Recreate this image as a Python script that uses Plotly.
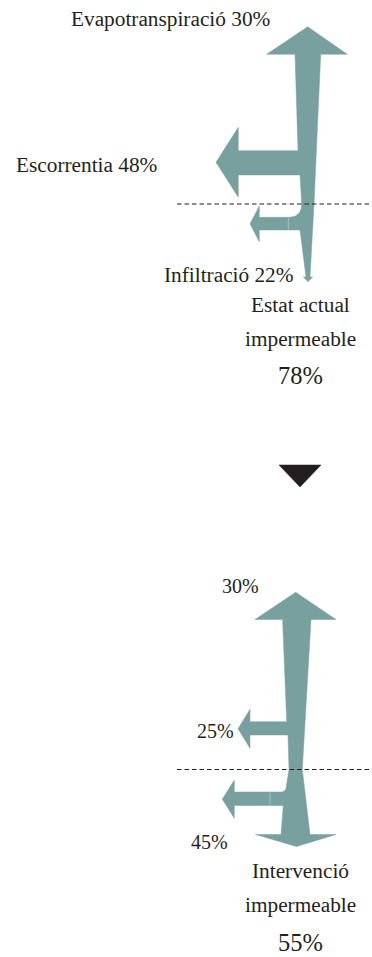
import numpy as np
import plotly.graph_objects as go

# ---------------- data ----------------
scenarios = ["Estat actual", "Intervenció"]
surface_type = ["impermeable", "impermeable"]
flow_names = ["Evapotranspiració", "Escorrentia", "Infiltració"]
evapotranspiracio = [30, 30]
escorrentia = [48, 25]
infiltracio = [22, 45]
impermeable_pct = [78, 55]

# ---------------- style / layout ----------------
W, H = 372, 957
TEAL = "#78a09e"
SEAM = "rgba(255,255,255,0.35)"
INK = "#231f20"
SERIF = "Liberation Serif, Times New Roman, serif"
NAME_SIZE = 21.3
PCT_SIZE = 20
BIG_SIZE = 24.5

# geometry of each panel, in canvas pixels (y grows downward)
GEOM = [
    dict(
        up_tip=(307.7, 26.7), up_base_y=54.3, up_l=266.7, up_r=347.3,
        shaft_r=[(320.7, 54.3), (315, 190), (314, 204), (310, 277)],
        shaft_l=[(306, 277), (300, 230), (301.7, 204), (300, 175)],
        shaft_l_top=[(298, 150.7), (295, 54.3)],
        down=dict(base_y=277, l=303.3, r=312.7, tip=(308, 281.7)),
        run=dict(top=150.7, bot=175, base_x=238.3, h_top=127.3, h_bot=197.3, tip_x=216),
        inf=dict(top=217.3, bot=230, seam_x=288.3, base_x=259.3, h_top=206, h_bot=241.7,
                 tip_x=250, join_x=304, arc_c=(290, 205), arc_r=(12, 12.3), join_top=204),
        dash_y=204,
    ),
    dict(
        up_tip=(295.7, 592.3), up_base_y=619.5, up_l=255, up_r=336,
        shaft_r=[(311, 619.5), (305, 720), (302.3, 769.5), (310, 834.5)],
        shaft_l=[(281, 834.5), (283.3, 805.5), (289, 769.5), (288, 735)],
        shaft_l_top=[(286.7, 721.7), (282.6, 619.5)],
        down=dict(base_y=834.5, l=255.5, r=336, tip=(296.5, 846.5)),
        run=dict(top=721.7, bot=735, base_x=250, h_top=709.3, h_bot=748.3, tip_x=238),
        inf=dict(top=792, bot=805.5, seam_x=270, base_x=234.3, h_top=780, h_bot=818.3,
                 tip_x=222.3, join_x=292, arc_c=(281, 785), arc_r=(6.5, 7), join_top=778),
        dash_y=769.5,
    ),
]

fig = go.Figure()


def poly(pts, color=TEAL):
    xs = [p[0] for p in pts] + [pts[0][0]]
    ys = [p[1] for p in pts] + [pts[0][1]]
    fig.add_trace(go.Scatter(x=xs, y=ys, mode="lines", fill="toself",
                             fillcolor=color, line=dict(color=color, width=0.5),
                             hoverinfo="skip", showlegend=False))


for g in GEOM:
    d = g["down"]
    r = g["run"]
    run_mid = (r["h_top"] + r["h_bot"]) / 2
    # main body: up arrow + tapering shaft + run-off branch + down tip
    body = [g["up_tip"], (g["up_r"], g["up_base_y"])]
    body += g["shaft_r"]
    body += [(d["r"], d["base_y"]), d["tip"], (d["l"], d["base_y"])]
    body += g["shaft_l"]
    body += [(r["base_x"], r["bot"]), (r["base_x"], r["h_bot"]), (r["tip_x"], run_mid),
             (r["base_x"], r["h_top"]), (r["base_x"], r["top"])]
    body += g["shaft_l_top"]
    body += [(g["up_l"], g["up_base_y"])]
    poly(body)

    # infiltration branch with rounded elbow
    f = g["inf"]
    cx, cy = f["arc_c"]
    rx, ry = f["arc_r"]
    t = np.linspace(np.pi / 2, 0, 12)
    arc = [(cx + rx * np.sin(a), cy + ry * np.cos(a)) for a in t]
    inf_mid = (f["h_top"] + f["h_bot"]) / 2
    branch = [(f["join_x"], f["join_top"])] + arc
    branch += [(f["base_x"], f["top"]), (f["base_x"], f["h_top"]), (f["tip_x"], inf_mid),
               (f["base_x"], f["h_bot"]), (f["base_x"], f["bot"]), (f["join_x"], f["bot"])]
    poly(branch)
    # faint seam where the elbow meets the straight branch
    fig.add_trace(go.Scatter(x=[f["seam_x"], f["seam_x"]], y=[f["top"] + 0.5, f["bot"] - 0.5],
                             mode="lines", line=dict(color=SEAM, width=1),
                             hoverinfo="skip", showlegend=False))

    # dashed ground line
    fig.add_trace(go.Scatter(x=[177, W], y=[g["dash_y"], g["dash_y"]], mode="lines",
                             line=dict(color=INK, width=1.2, dash="4.5px,3px"),
                             hoverinfo="skip", showlegend=False))

# black triangle between the two panels
poly([(279, 465), (321, 465), (300, 487)], color=INK)


def label(text, x, y, xanchor="center", size=NAME_SIZE):
    fig.add_annotation(x=x, y=y, xref="x", yref="y", text=text, showarrow=False,
                       xanchor=xanchor, yanchor="middle", borderpad=0,
                       font=dict(family=SERIF, size=size, color=INK))


# panel 1 labels
label(f"{flow_names[0]} {evapotranspiracio[0]}%", 272, 19, "right")
label(f"{flow_names[1]} {escorrentia[0]}%", 158.5, 164.5, "right")
label(f"{flow_names[2]} {infiltracio[0]}%", 295, 275, "right")
label(scenarios[0], 300, 305)
label(surface_type[0], 300, 338.5)
label(f"{impermeable_pct[0]}%", 300, 375.7, size=BIG_SIZE)

# panel 2 labels
label(f"{evapotranspiracio[1]}%", 260, 586, "right", size=PCT_SIZE)
label(f"{escorrentia[1]}%", 234.5, 731, "right", size=PCT_SIZE)
label(f"{infiltracio[1]}%", 229, 842.3, "right", size=PCT_SIZE)
label(scenarios[1], 300, 871)
label(surface_type[1], 300, 904.5)
label(f"{impermeable_pct[1]}%", 300, 942.5, size=BIG_SIZE)

fig.update_layout(
    width=W, height=H, margin=dict(l=0, r=0, t=0, b=0),
    paper_bgcolor="white", plot_bgcolor="white", showlegend=False,
    xaxis=dict(range=[0, W], visible=False, fixedrange=True),
    yaxis=dict(range=[H, 0], visible=False, fixedrange=True),
)
fig.write_html("out.html", config=dict(displayModeBar=False),
               post_script="document.body.style.margin='0';document.body.style.overflow='hidden';")
